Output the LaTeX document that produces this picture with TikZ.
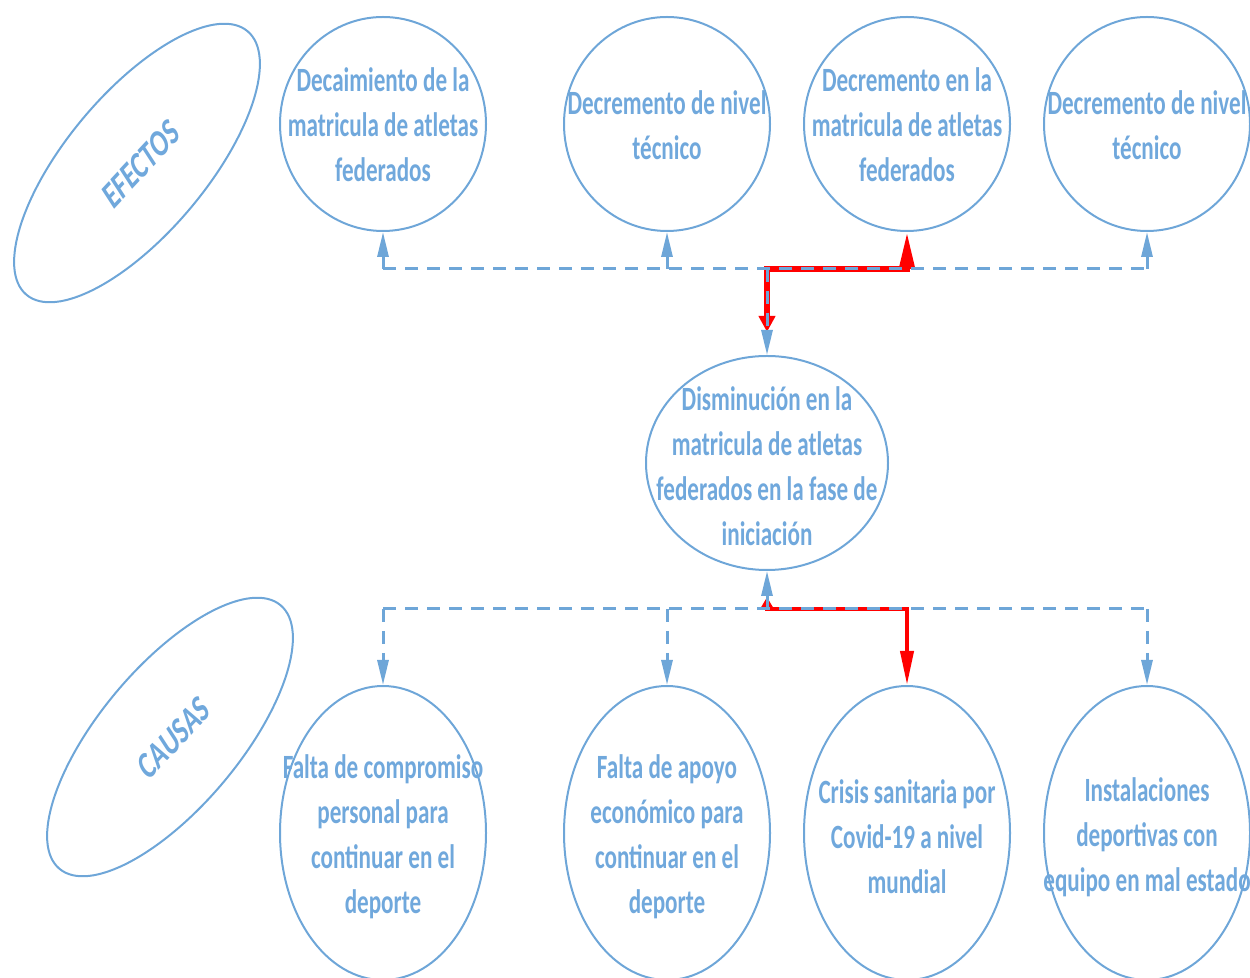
\documentclass[tikz,border=0pt]{standalone}
\usepackage{fontspec}
\usetikzlibrary{shapes.geometric,arrows.meta}
\newfontfamily\cf[FakeStretch=0.68]{Carlito}
\newfontfamily\cfi[FakeStretch=0.8,FakeSlant=0.25]{Carlito Bold}
\definecolor{bl}{RGB}{110,166,216}
\definecolor{bt}{RGB}{112,168,220}
\begin{document}
\begin{tikzpicture}[x=1pt,y=1pt,
  circ/.style={ellipse,draw=bl,line width=2pt,inner sep=0pt},
  topc/.style={circ,minimum width=206pt,minimum height=214pt},
  midc/.style={circ,minimum width=242pt,minimum height=214pt},
  botc/.style={circ,minimum width=206pt,minimum height=294pt},
  sidec/.style={circ,minimum width=344pt,minimum height=140pt,rotate=50},
  lbl/.style={text=bt,font=\cf\bfseries\fontsize{34}{45}\selectfont,align=center,inner sep=0pt},
  sidelbl/.style={text=bt,font=\cfi\fontsize{35}{40}\selectfont,inner sep=0pt,rotate=47},
  bdash/.style={draw=bl,line width=3pt,dash pattern=on 13pt off 9pt},
  barrow/.style={bdash,-{Triangle[length=25pt,width=11pt]}},
  redtop/.style={draw=red,line width=5.5pt,{Triangle[length=37pt,width=15pt]}-{Triangle[length=16pt,width=16pt]}},
  redbot/.style={draw=red,line width=4pt,{Triangle[length=12pt,width=13pt]}-{Triangle[length=34pt,width=13pt]}}
]
\useasboundingbox (0,0) rectangle (1250,977);

% side ellipses
\node[sidec] (ef) at (137,814) {};
\node[sidec] (ca) at (170,240) {};
\node[sidelbl] (eft) at (139,811) {EFECTOS};
\node[sidelbl] (cat) at (172,237) {CAUSAS};

% top row
\node[topc] (t1) at (383,853) {};
\node[topc] (t2) at (667,853) {};
\node[topc] (t3) at (907,853) {};
\node[topc] (t4) at (1147,853) {};
\node[lbl] (t1l) at (383,852) {Decaimiento de la\\matricula de atletas\\federados};
\node[lbl] (t2l) at (667,852) {Decremento de nivel\\técnico};
\node[lbl] (t3l) at (907,852) {Decremento en la\\matricula de atletas\\federados};
\node[lbl] (t4l) at (1147,852) {Decremento de nivel\\técnico};

% middle
\node[midc] (m) at (767,514) {};
\node[lbl] (ml) at (767,511) {Disminución en la\\matricula de atletas\\federados en la fase de\\iniciación};

% bottom row
\node[botc] (b1) at (383,144) {};
\node[botc] (b2) at (667,144) {};
\node[botc] (b3) at (907,144) {};
\node[botc] (b4) at (1147,144) {};
\node[lbl] (b1l) at (383,140) {Falta de compromiso\\personal para\\continuar en el\\deporte};
\node[lbl] (b2l) at (667,140) {Falta de apoyo\\económico para\\continuar en el\\deporte};
\node[lbl] (b3l) at (907,140) {Crisis sanitaria por\\Covid-19 a nivel\\mundial};
\node[lbl] (b4l) at (1147,140) {Instalaciones\\deportivas con\\equipo en mal estado};

% junctions
\coordinate (tj) at (767,708);
\coordinate (bj) at (767,368);
\coordinate (rt) at (767,645);
\coordinate (rb) at (767,380);

% red highlighted paths (underneath)
\draw[redtop] (t3.south) -- (tj -| t3) -- (tj) -- (rt);
\draw[redbot] (rb) -- (bj) -- (bj -| b3) -- (b3.north);

% top connectors
\draw[bdash] (tj -| t1) -- (tj -| t4);
\draw[barrow] (tj -| t1) -- (t1.south);
\draw[barrow] (tj -| t2) -- (t2.south);
\draw[barrow] (tj -| t4) -- (t4.south);
\draw[barrow] (tj) -- (m.north);

% bottom connectors
\draw[bdash] (bj -| b1) -- (bj -| b4);
\draw[barrow] (bj) -- (m.south);
\draw[barrow] (bj -| b1) -- (b1.north);
\draw[barrow] (bj -| b2) -- (b2.north);
\draw[barrow] (bj -| b4) -- (b4.north);
\end{tikzpicture}
\end{document}
